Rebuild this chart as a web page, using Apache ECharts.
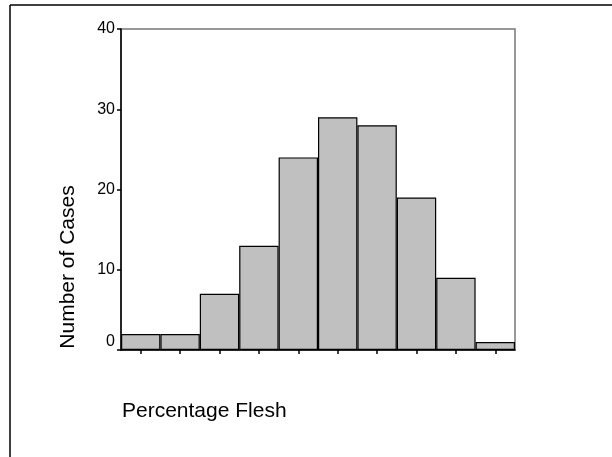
<!DOCTYPE html>
<html>
<head>
<meta charset="utf-8">
<script src="https://cdn.jsdelivr.net/npm/echarts@6/dist/echarts.min.js"></script>
<style>html,body{margin:0;padding:0;background:#fff;}#c{width:612px;height:457px;}</style>
</head>
<body>
<div id="c"></div>
<script>
var categories = ['1', '2', '3', '4', '5', '6', '7', '8', '9', '10'];
var counts = [2, 2, 7, 13, 24, 29, 28, 19, 9, 1];
var yTicks = [0, 10, 20, 30, 40];
var xTitle = 'Percentage Flesh';
var yTitle = 'Number of Cases';

var chart = echarts.init(document.getElementById('c'), null, {renderer: 'canvas'});
var font = '"Liberation Sans", Arial, sans-serif';
chart.setOption({
  animation: false,
  backgroundColor: '#ffffff',
  grid: {left: 121, right: 97, top: 29, bottom: 107, show: true, borderColor: '#777', borderWidth: 1.5, backgroundColor: 'transparent'},
  xAxis: {
    type: 'category',
    data: categories,
    boundaryGap: true,
    axisLine: {show: true, lineStyle: {color: '#000', width: 1.5}},
    axisTick: {show: true, alignWithLabel: true, length: 4, lineStyle: {color: '#000', width: 1.5}},
    axisLabel: {show: false},
    splitLine: {show: false}
  },
  yAxis: {
    type: 'value',
    min: yTicks[0],
    max: yTicks[yTicks.length - 1],
    interval: 10,
    axisLine: {show: true, lineStyle: {color: '#000', width: 1.5}},
    axisTick: {show: true, length: 4, lineStyle: {color: '#000', width: 1.5}},
    axisLabel: {show: true, margin: 6,
      formatter: function (v) { return v === 0 ? '{z|' + v + '}' : '{t|' + v + '}'; },
      rich: {
        t: {fontSize: 16, fontFamily: font, color: '#000'},
        z: {fontSize: 16, fontFamily: font, color: '#000', padding: [0, 0, 16, 0]}
      }},
    splitLine: {show: false}
  },
  series: [{
    type: 'bar',
    data: counts,
    barCategoryGap: '0%',
    itemStyle: {color: '#c0c0c0', borderColor: '#000', borderWidth: 1.2}
  }],
  graphic: [
    {type: 'line', shape: {x1: 10, y1: 5, x2: 612, y2: 5}, style: {stroke: '#000', lineWidth: 1.5}},
    {type: 'line', shape: {x1: 10, y1: 5, x2: 10, y2: 457}, style: {stroke: '#000', lineWidth: 1.5}},
    {type: 'text', x: 68, y: 267, rotation: Math.PI / 2,
      style: {text: yTitle, fill: '#000', font: '21px ' + font, textAlign: 'center', textVerticalAlign: 'middle'}},
    {type: 'text', x: 122, y: 411,
      style: {text: xTitle, fill: '#000', font: '21px ' + font, textAlign: 'left', textVerticalAlign: 'middle'}}
  ]
});
</script>
</body>
</html>
